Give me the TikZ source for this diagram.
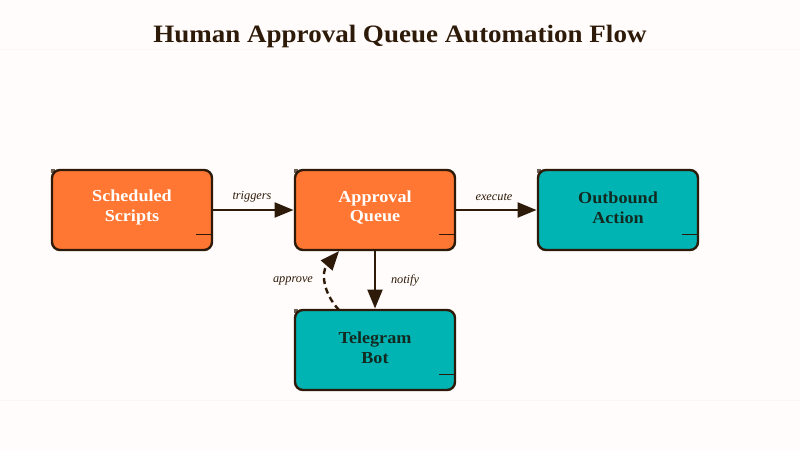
\documentclass[tikz,border=0pt]{standalone}
\usepackage{fontspec}
\setmainfont{Liberation Serif}
\newfontfamily\widefont[FakeStretch=1.08]{Liberation Serif}
\usetikzlibrary{arrows.meta,calc}
\definecolor{ink}{HTML}{2E1A08}
\definecolor{paper}{HTML}{FFFCFB}
\definecolor{rulec}{HTML}{FBF6F3}
\definecolor{orangeb}{HTML}{FF7733}
\definecolor{tealb}{HTML}{00B4B4}
\definecolor{darktxt}{HTML}{122A20}
\tikzset{
  x=1pt,y=-1pt,
  flowbox/.style={draw=ink,line width=2.4pt,outer sep=0pt,rounded corners=8pt,minimum width=160pt,minimum height=80pt,inner sep=0pt},
  boxlabel/.style={align=center,inner sep=0pt,font=\widefont\fontsize{16.8}{19.5}\selectfont\bfseries},
  hot/.style={flowbox,fill=orangeb},
  cool/.style={flowbox,fill=tealb},
  conn/.style={draw=ink,line width=2.4pt,shorten >=1.5pt,-{Triangle[length=19pt,width=15pt]}},
  edgelabel/.style={font=\fontsize{12.3}{14}\selectfont\itshape,text=ink,inner sep=0pt},
  tick/.style={draw=ink,line width=1.8pt},
  titletext/.style={font=\widefont\fontsize{25}{30}\selectfont\bfseries,text=ink,inner sep=0pt}
}
\begin{document}
\begin{tikzpicture}
\useasboundingbox (0,0) rectangle (800,450);
\fill[paper] (0,0) rectangle (800,450);
\fill[rulec] (0,48.5) rectangle (800,50);
\fill[rulec] (0,399.5) rectangle (800,401);
\node[titletext] (title) at (400,36.5) {Human Approval Queue Automation Flow};
\foreach \cx/\cy in {132/210,375/210,618/210,375/350}{
  \fill[ink!70] (\cx-81,\cy-41) rectangle ++(4,4);
}
\node[hot] (sched) at (132,210) {};
\node[hot] (queue) at (375,210) {};
\node[cool] (outb) at (618,210) {};
\node[cool] (tele) at (375,350) {};
\node[boxlabel,text=white] (tsched) at (132,207.5) {Scheduled\\Scripts};
\node[boxlabel,text=white] (tqueue) at (375,207.5) {Approval\\Queue};
\node[boxlabel,text=darktxt] (toutb) at (618,207.5) {Outbound\\Action};
\node[boxlabel,text=darktxt] (ttele) at (375,347.5) {Telegram\\Bot};
\foreach \n in {sched,queue,outb,tele}{
  \draw[tick] ($(\n.east)+(-16,24.5)$) -- ($(\n.east)+(0,24.5)$);
}
\draw[conn] (sched.east) -- (queue.west);
\draw[conn] (queue.east) -- (outb.west);
\draw[conn] (queue.south) -- (tele.north);
\coordinate (approvestart) at ($(tele.north)+(-36,0)$);
\coordinate (approveend) at ($(queue.south)+(-35,0)$);
\draw[conn,dash pattern=on 6pt off 4pt] (approvestart) .. controls (323,293) and (321,272) .. (approveend);
\node[edgelabel] (ltrig) at (252,197) {triggers};
\node[edgelabel] (lexec) at (494,197) {execute};
\node[edgelabel] (lappr) at (293,281) {approve};
\node[edgelabel] (lnoti) at (405,280) {notify};
\end{tikzpicture}
\end{document}
